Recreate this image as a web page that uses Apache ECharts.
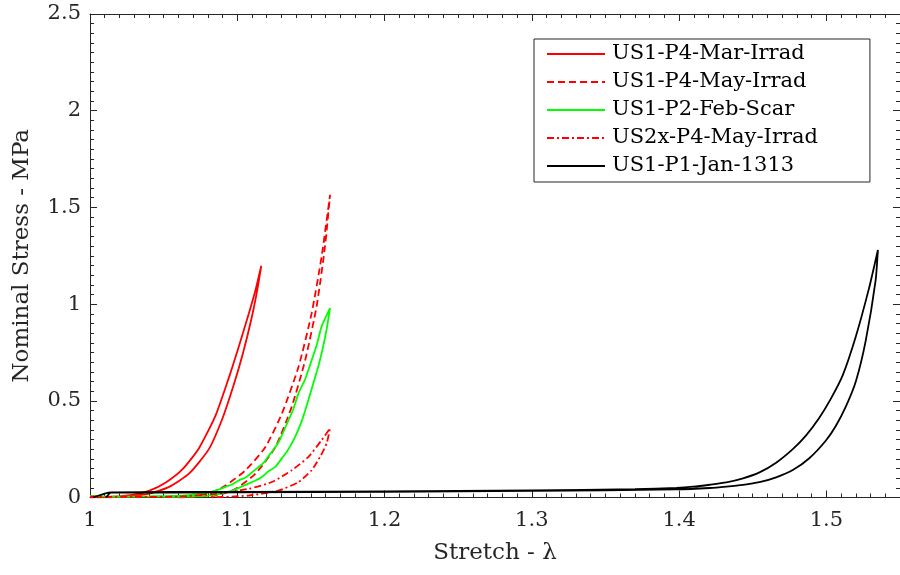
<!DOCTYPE html>
<html>
<head>
<meta charset="utf-8">
<script src="https://cdn.jsdelivr.net/npm/echarts@6/dist/echarts.min.js"></script>
<style>
  html, body { margin: 0; padding: 0; background: #fff; }
  #chart { width: 900px; height: 575px; }
</style>
</head>
<body>
<div id="chart"></div>
<script>
// Axis ticks
const xTicks = [1, 1.1, 1.2, 1.3, 1.4, 1.5];
const yTicks = [0, 0.5, 1, 1.5, 2, 2.5];

// Stretch (lambda) vs nominal stress (MPa), loading then unloading branch
const marIrrad = [
  [1.000, 0.000], [1.015, 0.004], [1.030, 0.015], [1.040, 0.034], [1.0515, 0.078],
  [1.0627, 0.145], [1.074, 0.255], [1.0853, 0.425], [1.0943, 0.620], [1.101, 0.780],
  [1.1078, 0.950], [1.1123, 1.070], [1.1163, 1.198],
  [1.1135, 1.070], [1.1095, 0.920], [1.1040, 0.750], [1.0975, 0.580], [1.0900, 0.410],
  [1.0807, 0.250], [1.0672, 0.123], [1.0537, 0.055], [1.0402, 0.020], [1.025, 0.006], [1.005, 0.000]
];

const mayIrrad = [
  [1.000, 0.004], [1.030, 0.003], [1.060, 0.006], [1.0807, 0.020], [1.092, 0.062],
  [1.1055, 0.140], [1.119, 0.260], [1.1303, 0.434], [1.1416, 0.676], [1.1505, 0.953],
  [1.1573, 1.248], [1.1630, 1.565],
  [1.1596, 1.300], [1.1539, 0.990], [1.1461, 0.710], [1.1370, 0.470], [1.1258, 0.260],
  [1.1123, 0.123], [1.0988, 0.045], [1.0853, 0.010], [1.060, 0.000]
];

const febScar = [
  [1.000, 0.008], [1.020, 0.004], [1.040, 0.006], [1.0625, 0.010], [1.075, 0.020],
  [1.0853, 0.036], [1.092, 0.055], [1.097, 0.070], [1.101, 0.088], [1.106, 0.105],
  [1.110, 0.130], [1.1145, 0.158], [1.118, 0.180], [1.121, 0.212], [1.1258, 0.260],
  [1.129, 0.300], [1.1348, 0.400], [1.138, 0.455], [1.1416, 0.540], [1.146, 0.610],
  [1.1505, 0.710], [1.154, 0.790], [1.1573, 0.885], [1.1630, 0.979],
  [1.1607, 0.870], [1.158, 0.770], [1.1551, 0.680], [1.152, 0.600], [1.1483, 0.505],
  [1.144, 0.400], [1.1393, 0.314], [1.134, 0.240], [1.1305, 0.205], [1.1258, 0.158],
  [1.121, 0.135], [1.1165, 0.105], [1.1123, 0.088], [1.104, 0.060], [1.0965, 0.036],
  [1.0807, 0.010], [1.050, 0.003]
];

const may2xIrrad = [
  [1.000, 0.004], [1.030, 0.003], [1.060, 0.005], [1.0853, 0.019], [1.1078, 0.045],
  [1.1235, 0.080], [1.1370, 0.141], [1.1483, 0.210], [1.1573, 0.297], [1.1630, 0.358],
  [1.1607, 0.280], [1.1562, 0.210], [1.1505, 0.141], [1.1416, 0.080], [1.1280, 0.036],
  [1.1078, 0.010], [1.080, 0.000]
];

const jan1313 = [
  [1.002, 0.000], [1.0143, 0.027], [1.100, 0.029], [1.200, 0.032], [1.300, 0.037],
  [1.370, 0.043], [1.3983, 0.050], [1.4096, 0.056], [1.4208, 0.066], [1.4321, 0.078],
  [1.4434, 0.099], [1.4546, 0.130], [1.4659, 0.180], [1.4772, 0.250], [1.4861, 0.320],
  [1.4950, 0.410], [1.5030, 0.510], [1.5110, 0.630], [1.5199, 0.830], [1.5289, 1.080],
  [1.5350, 1.280],
  [1.5334, 1.120], [1.5267, 0.810], [1.5200, 0.600], [1.5132, 0.470], [1.5064, 0.370],
  [1.4997, 0.295], [1.4884, 0.203], [1.4772, 0.142], [1.4659, 0.104], [1.4546, 0.079],
  [1.4434, 0.065], [1.4321, 0.056], [1.4208, 0.049], [1.3983, 0.042], [1.300, 0.034],
  [1.200, 0.029], [1.100, 0.026], [1.0143, 0.025], [1.011, 0.000]
];

const seriesNames = ['US1-P4-Mar-Irrad', 'US1-P4-May-Irrad', 'US1-P2-Feb-Scar', 'US2x-P4-May-Irrad', 'US1-P1-Jan-1313'];
const seriesData = [marIrrad, mayIrrad, febScar, may2xIrrad, jan1313];
const seriesColors = ['#ff0000', '#ff0000', '#00ff00', '#ff0000', '#000000'];
const seriesDash = ['solid', [7, 4], 'solid', [7, 3, 2, 3], 'solid'];

const FONT = 'DejaVu Serif';
const AXIS_COLOR = '#262626';

const chart = echarts.init(document.getElementById('chart'), null, { renderer: 'canvas' });

function frameAxis(extra) {
  return Object.assign({
    type: 'value',
    axisLine: { show: true, onZero: false, lineStyle: { color: AXIS_COLOR, width: 1 } },
    axisTick: { show: true, inside: true, length: 7, lineStyle: { color: AXIS_COLOR } },
    minorTick: { show: true, splitNumber: 10, length: 4, lineStyle: { color: AXIS_COLOR } },
    splitLine: { show: false },
    minorSplitLine: { show: false }
  }, extra);
}

const option = {
  animation: false,
  backgroundColor: '#ffffff',
  grid: { left: 90, top: 14, width: 814, height: 483.5, containLabel: false },
  xAxis: [
    frameAxis({
      min: xTicks[0], max: 1.55, interval: 0.1, position: 'bottom',
      name: 'Stretch - λ', nameLocation: 'middle', nameGap: 44,
      nameTextStyle: { fontFamily: FONT, fontSize: 23, color: AXIS_COLOR },
      axisLabel: { show: true, showMaxLabel: false, margin: 13, fontFamily: FONT, fontSize: 21, color: AXIS_COLOR,
        formatter: v => (xTicks.some(t => Math.abs(t - v) < 1e-9) ? String(+v.toFixed(2)) : '') }
    }),
    frameAxis({
      min: xTicks[0], max: 1.55, interval: 0.1, position: 'top',
      axisLabel: { show: false }
    })
  ],
  yAxis: [
    frameAxis({
      min: yTicks[0], max: yTicks[yTicks.length - 1], interval: 0.5, position: 'left',
      name: 'Nominal Stress - MPa', nameLocation: 'middle', nameGap: 56,
      nameTextStyle: { fontFamily: FONT, fontSize: 23, color: AXIS_COLOR },
      axisLabel: { show: true, margin: 9, fontFamily: FONT, fontSize: 21, color: AXIS_COLOR,
        formatter: v => String(+v.toFixed(2)) }
    }),
    frameAxis({
      min: yTicks[0], max: yTicks[yTicks.length - 1], interval: 0.5, position: 'right',
      axisLabel: { show: false }
    })
  ],
  legend: {
    orient: 'vertical',
    left: 534, top: 39,
    padding: [4, 52, 5, 12],
    itemWidth: 58, itemHeight: 14, itemGap: 6,
    backgroundColor: '#ffffff',
    borderColor: AXIS_COLOR, borderWidth: 1,
    itemStyle: { opacity: 0 },
    textStyle: { fontFamily: FONT, fontSize: 21, lineHeight: 22, color: '#000000', padding: [0, 0, 0, 2] },
    data: seriesNames
  },
  series: seriesNames.map((name, i) => ({
    name: name,
    type: 'line',
    data: seriesData[i],
    xAxisIndex: 0, yAxisIndex: 0,
    symbol: 'none', showSymbol: false,
    smooth: 0.2,
    clip: true,
    color: seriesColors[i],
    lineStyle: { color: seriesColors[i], width: 1.8, type: seriesDash[i] },
    z: i === 4 ? 3 : 2
  }))
};

chart.setOption(option);
</script>
</body>
</html>
